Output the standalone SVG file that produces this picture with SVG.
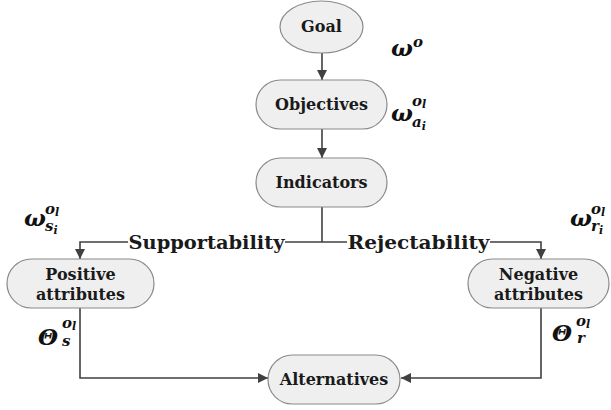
<svg xmlns="http://www.w3.org/2000/svg" width="611" height="410" viewBox="0 0 611 410">
<style>
.box{fill:#efefef;stroke:#8a8a8a;stroke-width:1.2}
.lbl{font-family:"DejaVu Serif","Liberation Serif",serif;font-weight:bold;font-size:16px;fill:#1a1a1a;text-anchor:middle}
.edge{fill:none;stroke:#404040;stroke-width:1.6}
.elbl{font-family:"DejaVu Serif","Liberation Serif",serif;font-weight:bold;font-size:18.5px;fill:#1a1a1a}
.m{font-family:"DejaVu Serif","Liberation Serif",serif;font-weight:bold;font-style:italic;fill:#111;font-size:23px}
.s{font-size:15px}
.t{font-size:11px}
</style>
<defs>
<marker id="ah" viewBox="0 0 10 10" refX="10" refY="5" markerWidth="10" markerHeight="10" markerUnits="userSpaceOnUse" orient="auto">
<path d="M0,0 L10,5 L0,10 z" fill="#404040"/>
</marker>
</defs>
<rect width="611" height="410" fill="#ffffff"/>
<g id="connectors">
<line class="edge" x1="322" y1="53" x2="322" y2="80" marker-end="url(#ah)"/>
<line class="edge" x1="322" y1="129" x2="322" y2="158" marker-end="url(#ah)"/>
<line class="edge" x1="322" y1="207" x2="322" y2="242"/>
<polyline class="edge" points="128,242 80,242 80,259" marker-end="url(#ah)"/>
<line class="edge" x1="285" y1="242" x2="347" y2="242"/>
<polyline class="edge" points="490,242 541,242 541,259" marker-end="url(#ah)"/>
<polyline class="edge" points="80,308 80,378 268,378" marker-end="url(#ah)"/>
<polyline class="edge" points="541,308 541,378 401,378" marker-end="url(#ah)"/>
<text class="elbl" x="206.5" y="249" text-anchor="middle" textLength="156" lengthAdjust="spacingAndGlyphs">Supportability</text>
<text class="elbl" x="418.5" y="249" text-anchor="middle" textLength="142" lengthAdjust="spacingAndGlyphs">Rejectability</text>
</g>
<g id="goal">
<ellipse class="box" cx="321.5" cy="27" rx="41.5" ry="26"/>
<text class="lbl" x="321.5" y="32">Goal</text>
</g>
<g id="objectives">
<rect class="box" x="256" y="80" width="131" height="49" rx="24.5"/>
<text class="lbl" x="321.5" y="110">Objectives</text>
</g>
<g id="indicators">
<rect class="box" x="256" y="158" width="131" height="49" rx="24.5"/>
<text class="lbl" x="321.5" y="188">Indicators</text>
</g>
<g id="positive">
<rect class="box" x="7" y="259" width="147" height="49" rx="24.5"/>
<text class="lbl" x="80.5" y="280">Positive</text>
<text class="lbl" x="80.5" y="300">attributes</text>
</g>
<g id="negative">
<rect class="box" x="468" y="259" width="141" height="49" rx="24.5"/>
<text class="lbl" x="538.5" y="280">Negative</text>
<text class="lbl" x="538.5" y="300">attributes</text>
</g>
<g id="alternatives">
<rect class="box" x="268" y="355" width="132" height="49" rx="24.5"/>
<text class="lbl" x="334" y="385">Alternatives</text>
</g>
<g id="math">
<text class="m" x="391" y="56">ω<tspan class="s" dy="-9">o</tspan></text>
<text class="m" x="391" y="121">ω<tspan class="s" x="412" y="106">o</tspan><tspan class="t" dy="2">l</tspan><tspan class="s" x="412" y="127">a</tspan><tspan class="t" dy="3">i</tspan></text>
<text class="m" x="24" y="226">ω<tspan class="s" x="45" y="214">o</tspan><tspan class="t" dy="2">l</tspan><tspan class="s" x="45" y="231">s</tspan><tspan class="t" dy="3">i</tspan></text>
<text class="m" x="570" y="226">ω<tspan class="s" x="591" y="214">o</tspan><tspan class="t" dy="2">l</tspan><tspan class="s" x="591" y="231">r</tspan><tspan class="t" dy="3">i</tspan></text>
<text class="m" x="38" y="345">Θ<tspan class="s" x="62" y="328">o</tspan><tspan class="t" dy="2">l</tspan><tspan class="s" x="62" y="346">s</tspan></text>
<text class="m" x="552" y="341">Θ<tspan class="s" x="576" y="326">o</tspan><tspan class="t" dy="2">l</tspan><tspan class="s" x="577" y="343">r</tspan></text>
</g>
</svg>
